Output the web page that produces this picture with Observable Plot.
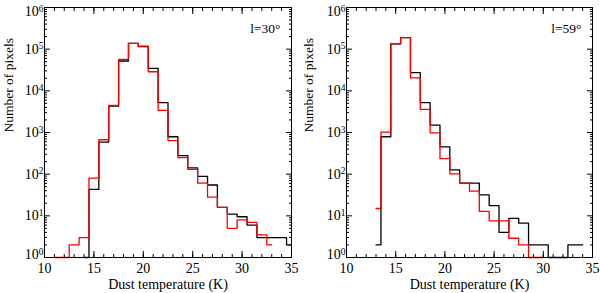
<!DOCTYPE html>
<html>
<head>
<meta charset="utf-8">
<script src="https://cdn.jsdelivr.net/npm/d3@7"></script>
<script src="https://cdn.jsdelivr.net/npm/@observablehq/plot@0.6"></script>
<style>
  html, body { margin: 0; padding: 0; background: #fff; }
  #wrap { display: flex; width: 600px; height: 293px; }
</style>
</head>
<body>
<div id="wrap"></div>
<script>
// ---- data ----
// l = 30 deg panel
const xBlack30 = [14, 15, 16, 17, 18, 19, 20, 21, 22, 23, 24, 25, 26, 27, 28, 29, 30, 31, 32, 33, 34, 35];
const yBlack30 = [1, 43, 590, 4300, 52000, 138000, 115000, 34500, 5200, 790, 280, 142, 89, 55, 16, 11, 9.5, 6, 3, 3, 3, 2];
const xRed30 = [11, 12, 13, 14, 15, 16, 17, 18, 19, 20, 21, 22, 23, 24, 25, 26, 27, 28, 29, 30, 31, 32, 33];
const yRed30 = [1, 1, 2, 3, 80, 670, 4500, 57000, 138000, 118000, 28700, 3400, 640, 250, 130, 61, 28, 16, 5, 8, 7, 3.5, 2];
// l = 59 deg panel
const xBlack59 = [13, 14, 15, 16, 17, 18, 19, 20, 21, 22, 23, 24, 25, 26, 27, 28, 29, 30, 31, 32, 33, 34];
const yBlack59 = [2, 790, 135000, 190000, 27500, 5200, 1500, 450, 127, 61, 61, 32, 17.6, 4, 8.7, 6.7, 2, 2, 1, 1, 2, 2];
const xRed59 = [13, 14, 15, 16, 17, 18, 19, 20, 21, 22, 23, 24, 25, 26, 27, 28, 29, 30];
const yRed59 = [15, 1020, 135000, 190000, 20500, 3600, 980, 235, 102, 61, 39, 12.8, 7.6, 7.6, 2.9, 2, 1, 1];

const panelLabels = ["l=30°", "l=59°"];
const xTitle = "Dust temperature (K)";
const yTitle = "Number of pixels";
const xMajorTicks = [10, 15, 20, 25, 30, 35];
const xMinorTicks = d3.range(10, 36);
const yMajorTicks = [1, 10, 100, 1000, 10000, 100000, 1000000];
const yMinorTicks = d3.range(0, 6).flatMap(k => d3.range(2, 10).map(m => m * Math.pow(10, k)));

const FONT = "'Liberation Serif', 'Times New Roman', serif";

function panel(xb, yb, xr, yr, label, ml, mr, titleDx) {
  const black = xb.map((x, i) => ({x, y: yb[i]}));
  const red = xr.map((x, i) => ({x, y: yr[i]}));
  const svg = Plot.plot({
    width: 300,
    height: 293,
    marginLeft: ml,
    marginRight: mr,
    marginTop: 7,
    marginBottom: 36,
    style: {fontFamily: FONT, fontSize: "13.5px", background: "white", color: "black", overflow: "visible"},
    x: {domain: [10, 35]},
    y: {type: "log", domain: [1, 1e6]},
    marks: [
      Plot.line(black, {x: "x", y: "y", curve: "step", stroke: "black", strokeWidth: 1.3}),
      Plot.line(red, {x: "x", y: "y", curve: "step", stroke: "#f00", strokeWidth: 1.3}),
      Plot.frame({stroke: "black", strokeWidth: 1}),
      // inward ticks on all four sides
      Plot.axisX({anchor: "bottom", ticks: xMajorTicks, tickSize: -6, fill: "none", label: null}),
      Plot.axisX({anchor: "bottom", ticks: xMinorTicks, tickSize: -3, fill: "none", label: null}),
      Plot.axisX({anchor: "top", ticks: xMajorTicks, tickSize: -6, fill: "none", label: null}),
      Plot.axisX({anchor: "top", ticks: xMinorTicks, tickSize: -3, fill: "none", label: null}),
      Plot.axisY({anchor: "left", ticks: yMajorTicks, tickSize: -6, fill: "none", label: null}),
      Plot.axisY({anchor: "left", ticks: yMinorTicks, tickSize: -3, fill: "none", label: null}),
      Plot.axisY({anchor: "right", ticks: yMajorTicks, tickSize: -6, fill: "none", label: null}),
      Plot.axisY({anchor: "right", ticks: yMinorTicks, tickSize: -3, fill: "none", label: null}),
      // tick labels
      Plot.axisX({anchor: "bottom", ticks: xMajorTicks, tickSize: 0, tickPadding: 6, tickFormat: d => String(d), label: null, fontSize: 14}),
      Plot.axisY({anchor: "left", ticks: yMajorTicks, tickSize: 0, tickPadding: 1, tickFormat: d => String(Math.round(Math.log10(d))), label: null, fontSize: 14}),
      // titles
      Plot.text([xTitle], {frameAnchor: "bottom", dy: 27, lineAnchor: "middle", fontSize: 14}),
      Plot.text([yTitle], {frameAnchor: "left", rotate: -90, dx: titleDx, lineAnchor: "middle", fontSize: 13.5}),
      Plot.text([label], {frameAnchor: "top-right", dx: -11, dy: 21, textAnchor: "end", lineAnchor: "middle", fontSize: 13.5})
    ]
  });
  // superscript exponents on y tick labels: 10^k (end labels kept inside the frame as in the original)
  d3.select(svg).selectAll('g[aria-label="y-axis tick label"] text').each(function() {
    const t = d3.select(this);
    const k = t.text();
    t.text("");
    const base = t.append("tspan").text("10");
    if (k === "6") base.attr("dy", "4");
    if (k === "0") base.attr("dy", "-3");
    t.append("tspan").attr("dy", "-0.45em").attr("font-size", "9.5px").text(k);
  });
  return svg;
}

const wrap = document.getElementById("wrap");
wrap.appendChild(panel(xBlack30, yBlack30, xRed30, yRed30, panelLabels[0], 44, 9, -36));
wrap.appendChild(panel(xBlack59, yBlack59, xRed59, yRed59, panelLabels[1], 46, 8, -38));
</script>
</body>
</html>
